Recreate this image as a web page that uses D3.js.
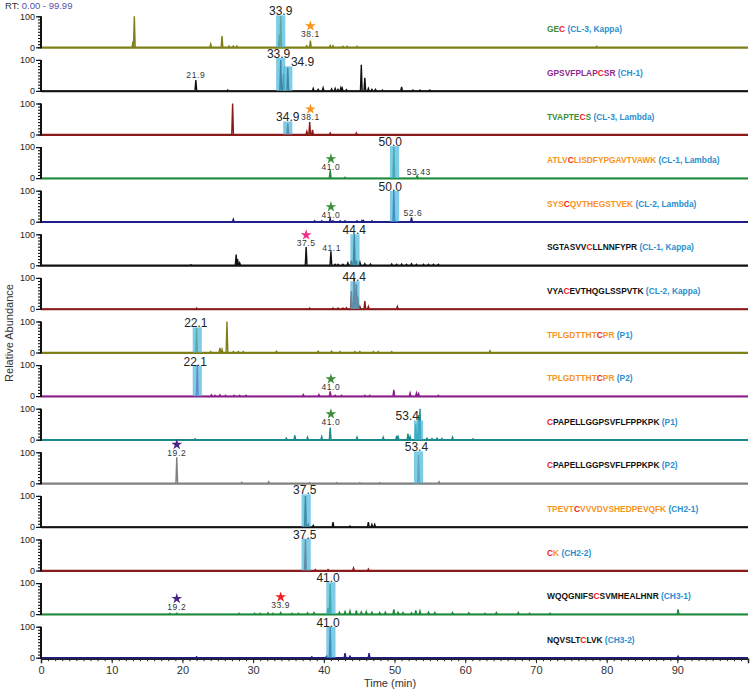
<!DOCTYPE html>
<html>
<head>
<meta charset="utf-8">
<script src="https://cdn.jsdelivr.net/npm/d3@7"></script>
<style>
  body { margin: 0; background: #fff; }
  text { font-family: "Liberation Sans", Arial, sans-serif; }
</style>
</head>
<body>
<svg id="chart" width="750" height="691"></svg>
<script>
// peptide names, one panel each (top to bottom), split in coloured pieces
const peptideParts = [
  [["GE", "green"], ["C", "red"], [" (CL-3, Kappa)", "blue"]],
  [["GPSVFPLAP", "purple"], ["C", "red"], ["SR", "purple"], [" (CH-1)", "blue"]],
  [["TVAPTE", "green"], ["C", "red"], ["S", "green"], [" (CL-3, Lambda)", "blue"]],
  [["ATLV", "orange"], ["C", "red"], ["LISDFYPGAVTVAWK", "orange"], [" (CL-1, Lambda)", "blue"]],
  [["SYS", "orange"], ["C", "red"], ["QVTHEGSTVEK", "orange"], [" (CL-2, Lambda)", "blue"]],
  [["SGTASVV", "black"], ["C", "red"], ["LLNNFYPR", "black"], [" (CL-1, Kappa)", "blue"]],
  [["VYA", "black"], ["C", "red"], ["EVTHQGLSSPVTK", "black"], [" (CL-2, Kappa)", "blue"]],
  [["TPLGDTTHT", "orange"], ["C", "red"], ["PR", "orange"], [" (P1)", "blue"]],
  [["TPLGDTTHT", "orange"], ["C", "red"], ["PR", "orange"], [" (P2)", "blue"]],
  [["C", "red"], ["PAPELLGGPSVFLFPPKPK", "black"], [" (P1)", "blue"]],
  [["C", "red"], ["PAPELLGGPSVFLFPPKPK", "black"], [" (P2)", "blue"]],
  [["TPEVT", "orange"], ["C", "red"], ["VVVDVSHEDPEVQFK", "orange"], [" (CH2-1)", "blue"]],
  [["C", "red"], ["K", "orange"], [" (CH2-2)", "blue"]],
  [["WQQGNIFS", "black"], ["C", "red"], ["SVMHEALHNR", "black"], [" (CH3-1)", "blue"]],
  [["NQVSLT", "black"], ["C", "red"], ["LVK", "black"], [" (CH3-2)", "blue"]]
];

// peaks per panel: [retention time (min), relative abundance (%)]
const peaksGEC = [[13.0, 18], [13.2, 100], [24.0, 10], [25.6, 36], [26.6, 4], [27.2, 4], [27.7, 4],
  [33.7, 40], [33.9, 100], [37.6, 5], [38.1, 22], [40.9, 6], [41.3, 5], [42.7, 3], [43.3, 3], [44.7, 3], [78.6, 3]];
const peaksCH1 = [[21.9, 35], [26.4, 3], [33.9, 100], [34.3, 55], [34.9, 75], [38.5, 8], [39.2, 5], [39.9, 10],
  [41.1, 6], [41.6, 8], [42.0, 5], [42.4, 10], [42.6, 9], [43.2, 4], [45.3, 84], [45.8, 42], [46.3, 8], [46.8, 5],
  [47.3, 5], [48.3, 3], [51.0, 13], [52.6, 3], [53.6, 3], [55.0, 3]];
const peaksCL3L = [[27.1, 100], [34.9, 35], [37.6, 10], [38.0, 40], [38.4, 15], [40.9, 5], [44.6, 5]];
const peaksCL1L = [[40.9, 25], [43.0, 3], [49.9, 100], [53.2, 8]];
const peaksCL2L = [[27.2, 8], [38.7, 3], [39.7, 3], [40.9, 10], [41.3, 3], [42.3, 3], [43.0, 3], [44.7, 3],
  [45.4, 4], [45.6, 4], [46.8, 3], [49.9, 100], [52.4, 14]];
const peaksCL1K = [[21.2, 2], [27.6, 35], [27.8, 20], [28.1, 8], [37.5, 59], [41.0, 45], [41.6, 3], [42.0, 3],
  [42.7, 3], [43.4, 8], [43.9, 15], [44.3, 100], [44.6, 15], [45.1, 10], [45.8, 5], [46.6, 4], [49.6, 4],
  [50.3, 3], [51.0, 4], [51.7, 3], [52.4, 5], [53.1, 3], [54.1, 3], [54.8, 3], [55.5, 3], [56.2, 3]];
const peaksCL2K = [[22.0, 3], [38.0, 3], [41.3, 3], [42.0, 3], [42.7, 3], [43.2, 4], [43.9, 58], [44.3, 96],
  [44.6, 80], [44.8, 40], [45.1, 8], [45.8, 25], [46.3, 8], [50.4, 8]];
const peaksP1a = [[22.0, 78], [24.0, 3], [25.3, 15], [25.6, 10], [26.3, 100], [27.2, 3], [27.9, 3], [28.6, 3],
  [33.3, 4], [39.2, 4], [41.1, 4], [42.3, 3], [44.4, 3], [45.1, 3], [47.0, 3], [47.7, 3], [49.6, 3], [63.5, 6]];
const peaksP2a = [[22.1, 100], [24.1, 4], [24.6, 3], [25.3, 4], [26.1, 3], [27.3, 3], [28.1, 3], [29.0, 3],
  [37.1, 5], [39.3, 5], [40.9, 15], [41.6, 3], [42.5, 3], [45.8, 3], [46.5, 3], [49.9, 20], [52.2, 10],
  [53.1, 10], [53.4, 8], [56.2, 3]];
const peaksP1b = [[21.8, 3], [34.7, 5], [35.9, 14], [37.7, 8], [39.7, 10], [40.9, 39], [44.7, 8], [48.4, 8],
  [50.3, 12], [50.5, 10], [51.9, 20], [52.2, 10], [53.0, 50], [53.4, 80], [53.6, 100], [54.6, 5], [55.3, 4],
  [56.0, 5], [56.7, 4], [58.2, 8], [61.1, 3]];
const peaksP2b = [[19.2, 84], [28.4, 3], [32.2, 5], [38.0, 2], [41.8, 2], [45.1, 2], [47.9, 2], [53.4, 92], [56.3, 5]];
const peaksCH21 = [[37.4, 100], [37.8, 8], [38.5, 5], [41.3, 15], [43.7, 3], [46.3, 15], [46.8, 8], [47.2, 8]];
const peaksCH22 = [[37.4, 100], [38.8, 3], [40.6, 3], [44.2, 8], [46.3, 5]];
const peaksCH31 = [[18.2, 2], [19.2, 3], [28.0, 3], [30.2, 3], [31.0, 3], [32.1, 4], [32.8, 3], [33.9, 5],
  [35.5, 3], [36.4, 3], [37.7, 4], [38.6, 5], [40.6, 20], [40.9, 98], [42.2, 6], [43.0, 8], [43.7, 10],
  [44.6, 12], [45.3, 7], [46.0, 8], [46.8, 6], [47.9, 5], [48.7, 6], [49.9, 15], [50.5, 6], [51.2, 5],
  [52.4, 4], [53.0, 12], [53.6, 10], [54.8, 6], [55.7, 5], [58.2, 5], [60.5, 4], [62.8, 3], [64.4, 5],
  [67.5, 5], [69.1, 3], [72.0, 3], [90.1, 15]];
const peaksCH32 = [[22.0, 3], [38.3, 3], [40.4, 5], [40.9, 100], [43.0, 15], [43.7, 5], [46.4, 15], [90.1, 5]];

const panelPeaks = [peaksGEC, peaksCH1, peaksCL3L, peaksCL1L, peaksCL2L, peaksCL1K, peaksCL2K,
  peaksP1a, peaksP2a, peaksP1b, peaksP2b, peaksCH21, peaksCH22, peaksCH31, peaksCH32];

// highlighted peaks: [panel, rt, label, label rt, label level %]
const highlights = [
  [0, 33.9, "33.9", 33.9, 116], [1, 33.9, "33.9", 33.6, 120], [1, 34.9, "34.9", 37.0, 92],
  [2, 34.9, "34.9", 34.9, 55], [3, 50.0, "50.0", 49.4, 116], [4, 50.0, "50.0", 49.4, 112],
  [5, 44.4, "44.4", 44.3, 113], [6, 44.4, "44.4", 44.3, 102], [7, 22.1, "22.1", 21.9, 94],
  [8, 22.1, "22.1", 21.8, 110], [9, 53.4, "53.4", 51.8, 75], [10, 53.4, "53.4", 53.1, 116],
  [11, 37.5, "37.5", 37.3, 118], [12, 37.5, "37.5", 37.3, 116], [13, 41.0, "41.0", 40.6, 116],
  [14, 41.0, "41.0", 40.6, 112]
];

// small annotations: [panel, rt, label, star colour or null, label level %]
const notes = [
  [0, 38.1, "38.1", "orange", 43], [1, 21.9, "21.9", null, 51], [2, 38.1, "38.1", "orange", 56],
  [3, 41.0, "41.0", "green", 36], [3, 53.43, "53.43", null, 21], [4, 41.0, "41.0", "green", 22],
  [4, 52.6, "52.6", null, 29], [5, 37.5, "37.5", "pink", 72], [5, 41.1, "41.1", null, 56],
  [8, 41.0, "41.0", "green", 29], [9, 41.0, "41.0", "green", 57], [10, 19.2, "19.2", "indigo", 99],
  [13, 19.2, "19.2", "indigo", 24], [13, 33.9, "33.9", "red", 29]
];

const traceColors = ["#7f7f18", "#111111", "#8b1a1a", "#1f8a3a", "#1f1f8a", "#111111", "#8b1a1a",
  "#7f7f18", "#8a1f8a", "#1a8a8a", "#808080", "#111111", "#8b1a1a", "#1f8a3a", "#1f1f8a"];
const textColors = { green: "#3b8f3b", red: "#ee2222", blue: "#2a8fd0", purple: "#8e2a90",
  orange: "#f7941d", black: "#111111", pink: "#ec2f8a", indigo: "#4a2585" };

const svg = d3.select("#chart");

const x = d3.scaleLinear().domain([0, 99.99]).range([41, 748]);
const panelY = d3.scaleLinear().domain([0, 14]).range([47.3, 657.7]);
const panelH = 31;
const yFor = i => d3.scaleLinear().domain([0, 100]).range([panelY(i), panelY(i) - panelH]);

// top-left range text
svg.append("text").attr("x", 5).attr("y", 9).attr("font-size", 9.5)
  .call(t => {
    t.append("tspan").attr("fill", "#333").text("RT: ");
    t.append("tspan").attr("fill", "#5555a5").text("0.00 - 99.99");
  });

panelPeaks.forEach((peaks, i) => {
  const y = yFor(i);
  const g = svg.append("g");

  // trace: flat baseline with a narrow spike at every peak
  const pts = [[0, 0]];
  peaks.slice().sort((a, b) => a[0] - b[0]).forEach(([rt, h]) => {
    pts.push([rt - 0.12, 0], [rt, h], [rt + 0.12, 0]);
  });
  pts.push([99.99, 0]);
  const line = d3.line().x(d => x(d[0])).y(d => y(d[1]));
  g.append("path").attr("d", line(pts)).attr("fill", "none")
    .attr("stroke", traceColors[i]).attr("stroke-width", 1.4).attr("stroke-linejoin", "miter");
  // thicker baseline
  g.append("line").attr("x1", x(0)).attr("x2", x(99.99)).attr("y1", y(0) + 0.5).attr("y2", y(0) + 0.5)
    .attr("stroke", traceColors[i]).attr("stroke-width", 1.8);

  // y axis: ruler-like ticks
  const axMinor = d3.axisLeft(y).tickValues(d3.range(0, 101, 10)).tickSize(3).tickFormat("");
  g.append("g").attr("transform", `translate(${x(0)},0)`).call(axMinor)
    .call(a => a.select(".domain").remove())
    .call(a => a.selectAll("line").attr("stroke", "#111").attr("stroke-width", 1.1));
  const axMajor = d3.axisLeft(y).tickValues([0, 100]).tickSize(5).tickPadding(1);
  g.append("g").attr("transform", `translate(${x(0)},0)`).call(axMajor)
    .call(a => a.select(".domain").remove())
    .call(a => a.selectAll("line").attr("stroke", "#111").attr("stroke-width", 1.2))
    .call(a => a.selectAll("text").attr("font-size", 9).attr("fill", "#222")
      .attr("font-family", "'Liberation Sans', Arial, sans-serif"));
  g.append("line").attr("x1", x(0)).attr("x2", x(0)).attr("y1", y(0) + 1).attr("y2", y(100))
    .attr("stroke", "#111").attr("stroke-width", 2);

  // peptide label
  const t = g.append("text").attr("x", 547).attr("y", y(0) - 15)
    .attr("font-size", 8.4).attr("font-weight", "bold");
  peptideParts[i].forEach(([s, c]) => t.append("tspan").attr("fill", textColors[c]).text(s));
});

// highlight bands and big labels
highlights.forEach(([i, rt, label, lrt, lvl]) => {
  const y = yFor(i);
  const top = y(lvl) + 4;
  svg.append("rect")
    .attr("x", x(rt - 0.65)).attr("width", x(rt + 0.65) - x(rt - 0.65))
    .attr("y", top).attr("height", y(0) - top)
    .attr("fill", "#4fb8dc").attr("opacity", 0.72);
  svg.append("text").attr("x", x(lrt)).attr("y", y(lvl) + 4)
    .attr("text-anchor", "middle").attr("font-size", 12).attr("fill", "#222").text(label);
});

// stars and small labels
const star = d3.symbol().type(d3.symbolStar).size(36);
notes.forEach(([i, rt, label, col, lvl]) => {
  const y = yFor(i);
  svg.append("text").attr("x", x(rt)).attr("y", y(lvl) + 3)
    .attr("text-anchor", "middle").attr("font-size", 8.5).attr("letter-spacing", 0.6)
    .attr("fill", "#333").text(label);
  if (col) {
    svg.append("path").attr("d", star())
      .attr("transform", `translate(${x(rt)},${y(lvl) - 8})`)
      .attr("fill", textColors[col]);
  }
});

// x axis
const base = panelY(14);
svg.append("g").attr("transform", `translate(0,${base + 1})`)
  .call(d3.axisBottom(x).tickValues(d3.range(0, 100, 1)).tickSize(2.5).tickFormat(""))
  .call(a => a.select(".domain").remove())
  .call(a => a.selectAll("line").attr("stroke", "#222"));
svg.append("g").attr("transform", `translate(0,${base + 1})`)
  .call(d3.axisBottom(x).tickValues(d3.range(0, 100, 10)).tickSize(4.5).tickPadding(3))
  .call(a => a.select(".domain").attr("stroke", "#222").attr("stroke-width", 1.5))
  .call(a => a.selectAll("line").attr("stroke", "#222"))
  .call(a => a.selectAll("text").attr("font-size", 11).attr("fill", "#333")
    .attr("font-family", "'Liberation Sans', Arial, sans-serif"));

svg.append("text").attr("x", 390).attr("y", 687).attr("text-anchor", "middle")
  .attr("font-size", 11).attr("fill", "#333").text("Time (min)");
svg.append("text").attr("transform", "translate(13,333) rotate(-90)").attr("text-anchor", "middle")
  .attr("font-size", 11).attr("fill", "#333").text("Relative Abundance");
</script>
</body>
</html>
